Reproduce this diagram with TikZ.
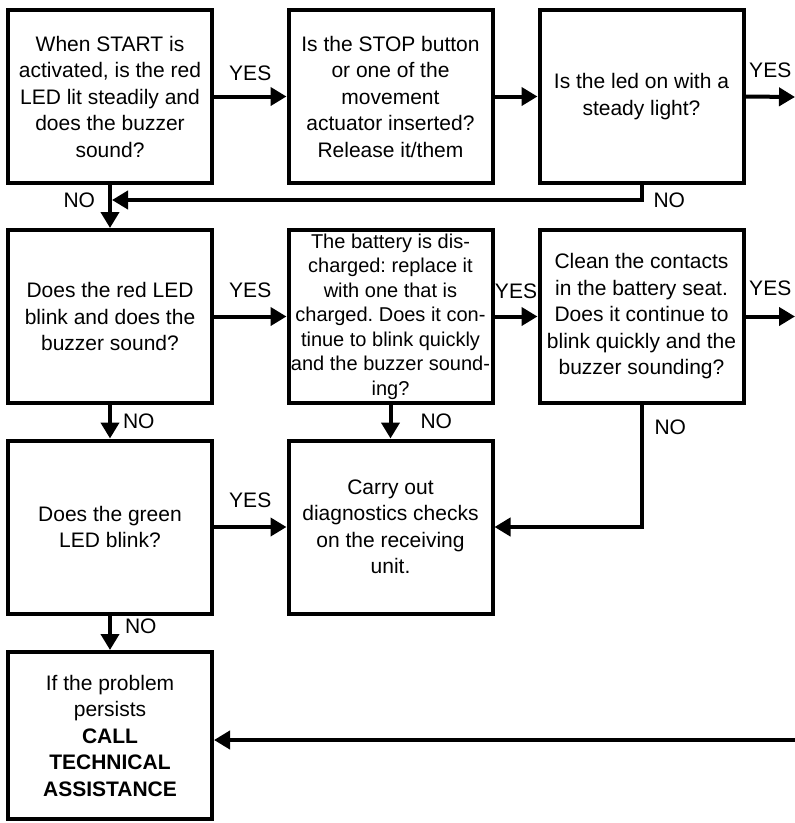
\documentclass[tikz,border=0pt]{standalone}
\usepackage{fontspec}
\setmainfont{Liberation Sans}
\usetikzlibrary{arrows.meta}
\frenchspacing
\tikzset{
    box/.style={draw, line width=4pt, minimum width=204pt, minimum height=173pt,
        inner sep=0pt, align=center, font=\fontsize{21}{26.5}\selectfont},
    arr/.style={line width=4pt, -{Triangle[length=16pt,width=18pt]}},
    lab/.style={inner sep=0pt, font=\fontsize{21}{26.5}\selectfont}
}
\begin{document}
\begin{tikzpicture}[x=1pt, y=-1pt]
    \useasboundingbox (0,0) rectangle (795,823);

    \node[box] (start) at (110,96.5) {When START is\\activated, is the red\\LED lit steadily and\\does the buzzer\\sound?};
    \node[box] (stop) at (390.5,96.5) {Is the STOP button\\or one of the\\movement\\actuator inserted?\\Release it/them};
    \node[box] (steady) at (641.5,96.5) {Is the led on with a\\steady light?};
    \node[box] (redblink) at (110,316.5) {Does the red LED\\blink and does the\\buzzer sound?};
    \node[box, font=\fontsize{20}{24.5}\selectfont] (battery) at (390.5,316.5) {The battery is dis-\\charged: replace it\\with one that is\\charged. Does it con-\\tinue to blink quickly\\and the buzzer sound-\\ing?};
    \node[box] (contacts) at (641.5,316.5) {Clean the contacts\\in the battery seat.\\Does it continue to\\blink quickly and the\\buzzer sounding?};
    \node[box] (greenblink) at (110,527) {Does the green\\LED blink?};
    \node[box] (diag) at (390.5,527) {Carry out\\diagnostics checks\\on the receiving\\unit.};
    \node[box, minimum height=167pt] (call) at (110,735.5) {If the problem\\persists\\\textbf{CALL}\\\textbf{TECHNICAL}\\\textbf{ASSISTANCE}};

    \coordinate (nojoin) at (112,200);
    \coordinate (yesout1) at (795,97);
    \coordinate (yesout2) at (795,316.5);
    \coordinate (callin) at (795,740);

    \draw[arr] (start) -- node[lab, above=14pt] {YES} (stop);
    \draw[arr] (stop) -- (steady);
    \draw[arr] (steady.east) -- node[lab, pos=0.5, above=17pt] {YES} (yesout1);
    \draw[arr] (start.south) -- node[lab, pos=0.36, left=13pt] {NO} (redblink.north);
    \draw[arr] (steady.south) |- node[lab, pos=0.5, right=10pt] {NO} (nojoin);

    \draw[arr] (redblink) -- node[lab, above=17pt] {YES} (battery);
    \draw[arr] (battery) -- node[lab, above=16pt] {YES} (contacts);
    \draw[arr] (contacts.east) -- node[lab, above=19pt] {YES} (yesout2);
    \draw[arr] (redblink.south) -- node[lab, right=11pt] {NO} (greenblink.north);
    \draw[arr] (battery.south) -- node[lab, right=28pt] {NO} (diag.north);
    \draw[arr] (contacts.south) |- node[lab, pos=0.09, right=11pt] {NO} (diag.east);

    \draw[arr] (greenblink) -- node[lab, above=17pt] {YES} (diag);
    \draw[arr] (greenblink.south) -- node[lab, pos=0.3, right=13pt] {NO} (call.north);
    \draw[arr] (callin) -- (callin -| call.east);
\end{tikzpicture}
\end{document}
